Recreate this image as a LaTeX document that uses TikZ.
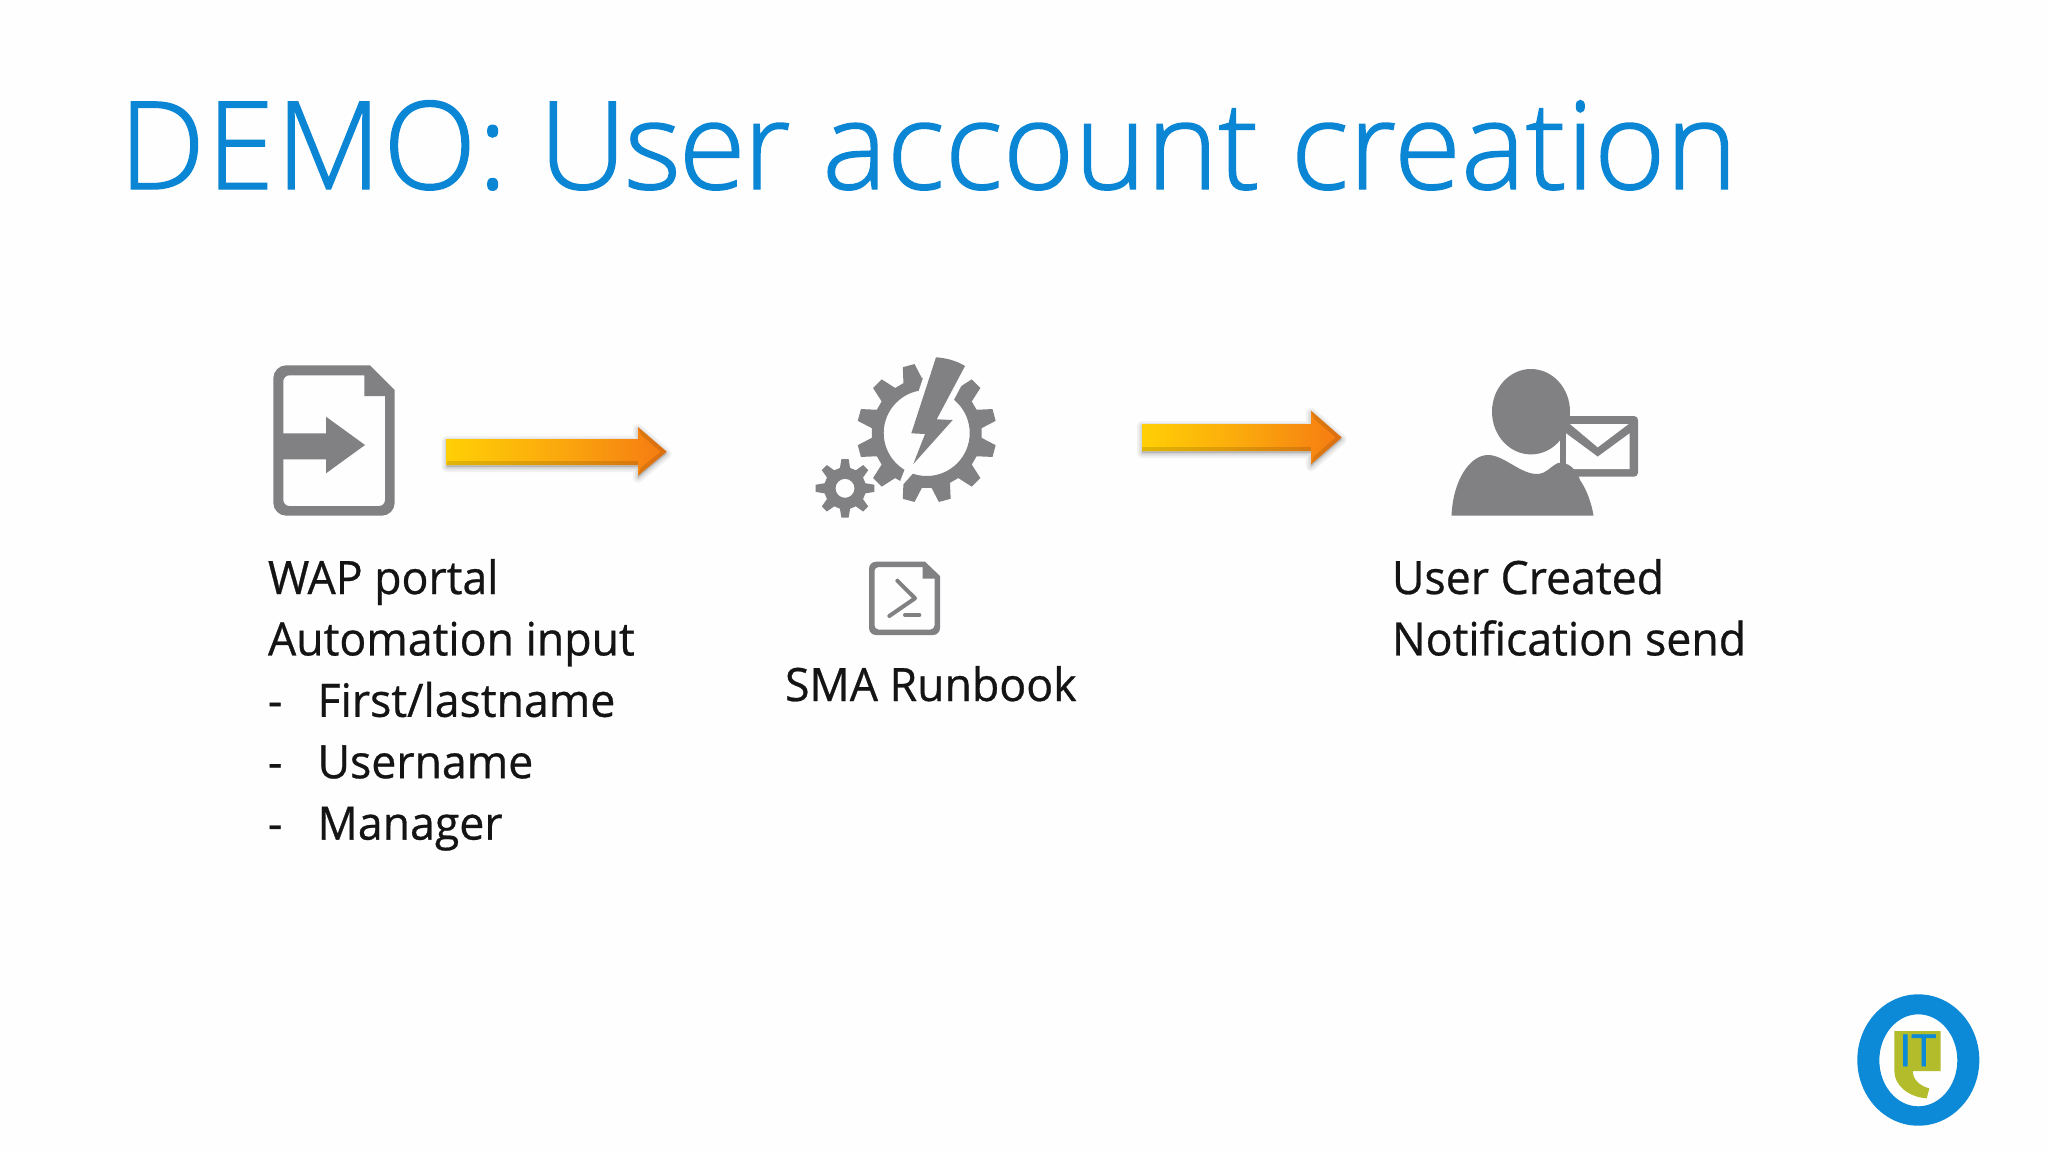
\documentclass[tikz,border=0pt]{standalone}
\usepackage{fontspec}
\setmainfont{Open Sans}
\newfontfamily\titlefont[FakeBold=1.2]{Open Sans Light}
\newfontfamily\bodyfont[FakeStretch=0.97,FakeBold=0.6]{Open Sans}
\newfontfamily\logofont[FakeBold=1.5]{Open Sans}
\usetikzlibrary{calc}
\definecolor{icongrey}{HTML}{818083}
\definecolor{titleblue}{HTML}{0A86D4}
\definecolor{logoblue}{HTML}{0C8AD8}
\definecolor{logogreen}{HTML}{B3BD2B}
\definecolor{arrowyellow}{HTML}{FFCF05}
\definecolor{arrowmid}{HTML}{FBA90D}
\definecolor{arroworange}{HTML}{F57A12}
\definecolor{bgwhite}{HTML}{FEFEFE}
\tikzset{
  iconfill/.style={fill=icongrey,draw=none},
  bodytext/.style={anchor=base west,inner sep=0pt,outer sep=0pt,align=left,text=black!92,
    font=\bodyfont\fontsize{23pt}{30.7pt}\selectfont},
  titletext/.style={anchor=base west,inner sep=0pt,outer sep=0pt,text=titleblue,
    font=\titlefont\fontsize{61pt}{70pt}\selectfont},
}
\newcommand{\dashitem}[1]{\makebox[24.8pt][l]{-}#1}
\newcommand{\blockarrow}[9]{%
  % #1 name, #2 x0, #3 xbase, #4 xtip, #5 shaft top, #6 shaft bottom, #7 head top, #8 head bottom, #9 tip y
  \foreach \o/\w in {0/5,1/3,2/1.5}{
    \fill[black,opacity=.05,draw=black,line width=\w pt,line join=round]
      (#2,#5+2) -- (#3,#5+2) -- (#3,#7+2) -- (#4,#9+2) -- (#3,#8+2) -- (#3,#6+2) -- (#2,#6+2) -- cycle;
  }
  \shade[left color=arrowyellow,right color=arroworange,middle color=arrowmid]
    (#2,#5) coordinate (#1-start) -- (#3,#5) -- (#3,#7) -- (#4,#9) coordinate (#1-end) -- (#3,#8) -- (#3,#6) -- (#2,#6) -- cycle;
  \fill[black,opacity=.12] (#2,#6-4) -- (#3,#6-4) -- (#3,#6) -- (#2,#6) -- cycle;
  \fill[black,opacity=.10] (#3,#7) -- (#4,#9) -- (#4-6,#9) -- (#3+3,#7+8) -- cycle;
  \fill[black,opacity=.10] (#3,#8) -- (#4,#9) -- (#4-6,#9) -- (#3+3,#8-8) -- cycle;
}
\newcommand{\gearshape}[7]{%
  % #1 cx, #2 cy, #3 tooth count, #4 outer r, #5 root r, #6 tip half angle, #7 root half angle; offset in \gearoff, hole in \gearhole
  \begin{scope}[shift={(#1,#2)}]
    \pgfmathsetmacro{\gstep}{360/#3}
    \fill[iconfill,even odd rule]
      (\gearoff-#7:#5)
      \foreach \k in {1,...,#3}{
        -- ({\gearoff+(\k-1)*\gstep-#7}:#5)
        -- ({\gearoff+(\k-1)*\gstep-#6}:#4)
        -- ({\gearoff+(\k-1)*\gstep+#6}:#4)
        -- ({\gearoff+(\k-1)*\gstep+#7}:#5)
      } -- cycle
      (0,0) circle[radius=\gearhole];
  \end{scope}%
}
\begin{document}
\begin{tikzpicture}[x=0.5pt,y=-0.5pt]
\useasboundingbox (0,0) rectangle (2048,1152);
\fill[bgwhite] (0,0) rectangle (2048,1152);

\node[titletext] (title) at (119,189) {{\addfontfeature{LetterSpace=1.5}DEMO:} {\addfontfeature{LetterSpace=-2}User} account creation};

% document icon with arrow
\fill[iconfill,even odd rule]
  (330,365.3) -- (370,365.3) -- (394.7,390) [rounded corners=6.5pt] -- (394.7,515.7) -- (273.3,515.7) -- (273.3,365.3) -- cycle
  [sharp corners] (330,375.3) -- (364.3,375.3) -- (364.3,396) -- (385,396) [rounded corners=3pt] -- (385,506) -- (283.3,506) -- (283.3,375.3) -- cycle;
\fill[iconfill] (275,433.3) -- (326,433.3) -- (326,416.7) -- (365,445) -- (326,473.3) -- (326,459.3) -- (275,459.3) -- cycle;

% arrows
\blockarrow{arrowA}{446.7}{638}{666.7}{439}{465}{427}{475.7}{451.7}
\blockarrow{arrowB}{1142}{1311}{1341.7}{424}{451}{410.7}{464.3}{437.5}

% gears
\def\gearoff{15}\def\gearhole{43}
\gearshape{926.7}{433}{12}{70}{55}{5}{10}
\def\gearoff{0}\def\gearhole{9.5}
\gearshape{845}{488.3}{8}{29.5}{21}{7}{14}

% lightning bolt
\path[draw=bgwhite,line width=6pt,line join=miter,fill=bgwhite]
  (936,357.3) .. controls (947,358) and (957,361) .. (965,366) -- (936.7,419.3) -- (952.7,420) -- (913.3,464) -- (925,434) -- (911.3,433.3) -- cycle;
\fill[iconfill]
  (936,357.3) .. controls (947,358) and (957,361) .. (965,366) -- (936.7,419.3) -- (952.7,420) -- (913.3,464) -- (925,434) -- (911.3,433.3) -- cycle;

% small script icon
\fill[iconfill,even odd rule]
  (900,561.7) -- (925,561.7) -- (940,576) [rounded corners=3.5pt] -- (940,635) -- (869,635) -- (869,561.7) -- cycle
  [sharp corners] (900,567) -- (922.7,567) -- (922.7,578.7) -- (934.5,578.7) [rounded corners=2pt] -- (934.5,629.5) -- (874.5,629.5) -- (874.5,567) -- cycle;
\draw[icongrey,line width=2pt,line cap=round,line join=round]
  (897.3,580.7) -- (915,598.3) -- (889.3,616);
\draw[icongrey,line width=2pt,line cap=round] (905,615) -- (919.3,615);

% envelope
\fill[iconfill,rounded corners=2pt] (1559.5,416) rectangle (1638,476.7);
\fill[bgwhite] (1570,424) -- (1628.6,424) -- (1597.7,447.3) -- cycle;
\fill[bgwhite] (1566,433.3) -- (1597.7,456.7) -- (1629.6,433.3) -- (1629.6,469) -- (1566,469) -- cycle;
% user
\fill[bgwhite] (1557.8,440) rectangle (1559.5,472);
\fill[iconfill] (1531,411.7) circle[x radius=39,y radius=42.7];
\fill[iconfill]
  (1451.5,515.7) .. controls (1453,480) and (1470,455) .. (1488,455)
  .. controls (1504,455) and (1520,474) .. (1537,474)
  .. controls (1546,474) and (1551,466) .. (1558,463)
  .. controls (1568,461) and (1577,470) .. (1580,480)
  .. controls (1587,490) and (1592,505) .. (1593.5,515.7) -- cycle;

% logo
\fill[logoblue,even odd rule] (1918.3,1060) circle[x radius=61,y radius=65.7]
  (1918.3,1060.3) circle[x radius=39,y radius=46];
\fill[logogreen]
  (1894.3,1031) -- (1940.7,1031) -- (1940.7,1071) -- (1912.7,1071)
  .. controls (1913,1080) and (1920,1086) .. (1929.3,1088.3)
  -- (1926.7,1098.3) .. controls (1908,1097) and (1894.3,1085) .. (1894.3,1071) -- cycle;
\node[inner sep=0pt,text=logoblue,anchor=base,font=\logofont\fontsize{22pt}{22pt}\selectfont] (logotext) at (1917.5,1066) {IT};

% labels
\node[bodytext] (inputlabel) at (268,839.6) {WAP portal\\Automation input\\\dashitem{First/lastname}\\\dashitem{Username}\\\dashitem{Manager}};
\node[bodytext] (runbooklabel) at (785,701) {SMA Runbook};
\node[bodytext] (resultlabel) at (1392,655.4) {User Created\\Notification send};
\end{tikzpicture}
\end{document}
